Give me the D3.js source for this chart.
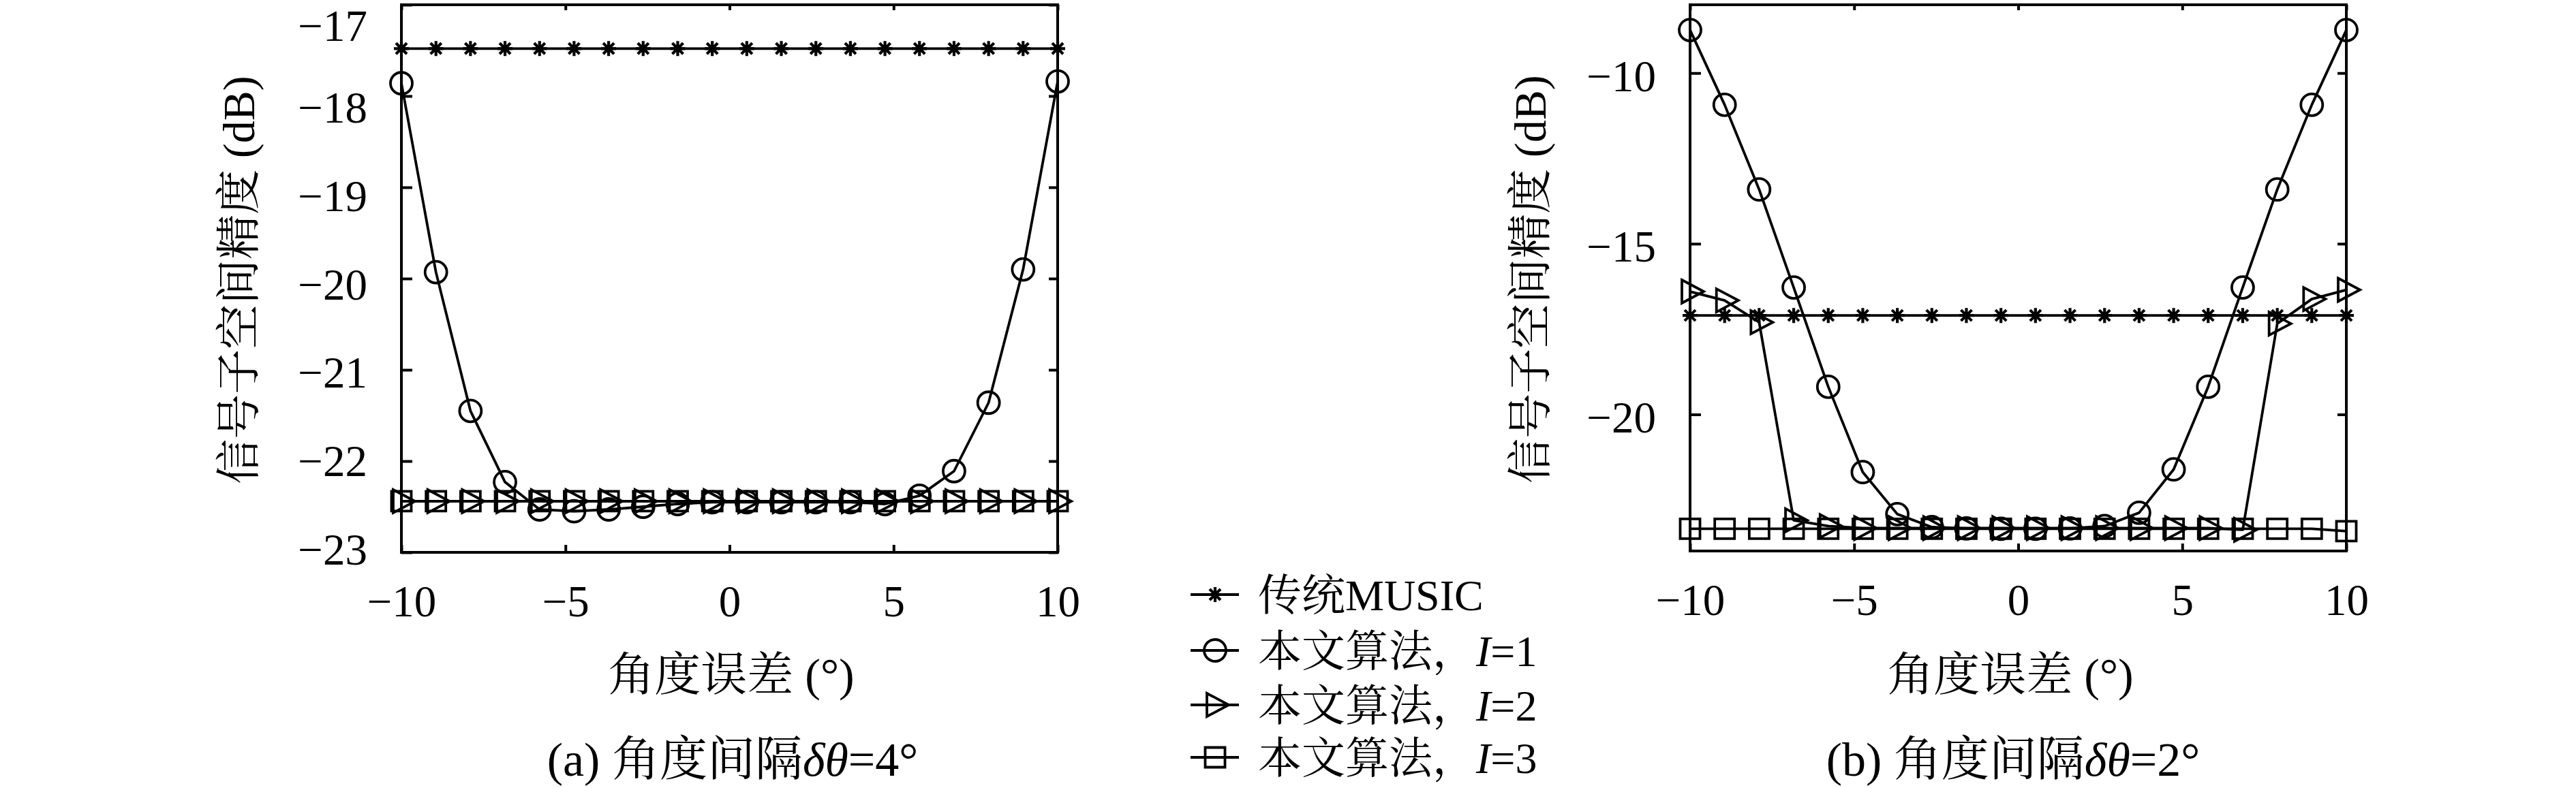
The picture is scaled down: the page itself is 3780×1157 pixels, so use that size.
<!DOCTYPE html>
<html><head><meta charset="utf-8">
<script src="https://cdn.jsdelivr.net/npm/d3@7"></script>
<style>body{margin:0;background:#fff} svg{display:block}</style>
</head><body>
<svg id="c" width="3780" height="1157"></svg>
<script>
// ---- data ----
const xVals = [-10, -8.947, -7.895, -6.842, -5.789, -4.737, -3.684, -2.632, -1.579, -0.526,
               0.526, 1.579, 2.632, 3.684, 4.737, 5.789, 6.842, 7.895, 8.947, 10];
const xTicks = [-10, -5, 0, 5, 10];

// panel (a): delta theta = 4
const aMusic = [-17.48,-17.48,-17.48,-17.48,-17.48,-17.48,-17.48,-17.48,-17.48,-17.48,
                -17.48,-17.48,-17.48,-17.48,-17.48,-17.48,-17.48,-17.48,-17.48,-17.48];
const aI1 = [-17.86,-19.93,-21.45,-22.23,-22.53,-22.55,-22.53,-22.50,-22.47,-22.45,
             -22.45,-22.45,-22.45,-22.45,-22.47,-22.38,-22.11,-21.36,-19.90,-17.84];
const aI2 = [-22.44,-22.44,-22.44,-22.44,-22.44,-22.44,-22.44,-22.44,-22.44,-22.44,
             -22.44,-22.44,-22.44,-22.44,-22.44,-22.44,-22.44,-22.44,-22.44,-22.44];
const aI3 = [-22.44,-22.44,-22.44,-22.44,-22.44,-22.44,-22.44,-22.44,-22.44,-22.44,
             -22.44,-22.44,-22.44,-22.44,-22.44,-22.44,-22.44,-22.44,-22.44,-22.44];
const aYDomain = [-23, -17];
const aYTicks = [-23, -22, -21, -20, -19, -18, -17];

// panel (b): delta theta = 2
const bMusic = [-17.10,-17.10,-17.10,-17.10,-17.10,-17.10,-17.10,-17.10,-17.10,-17.10,
                -17.10,-17.10,-17.10,-17.10,-17.10,-17.10,-17.10,-17.10,-17.10,-17.10];
const bI1 = [-8.74,-10.93,-13.41,-16.28,-19.19,-21.69,-22.92,-23.30,-23.34,-23.35,
             -23.35,-23.34,-23.27,-22.88,-21.61,-19.19,-16.28,-13.41,-10.93,-8.74];
const bI2 = [-16.40,-16.66,-17.30,-23.10,-23.27,-23.33,-23.33,-23.33,-23.33,-23.33,
             -23.33,-23.33,-23.33,-23.33,-23.33,-23.33,-23.38,-17.34,-16.62,-16.35];
const bI3 = [-23.35,-23.35,-23.35,-23.35,-23.35,-23.35,-23.35,-23.35,-23.35,-23.35,
             -23.35,-23.35,-23.35,-23.35,-23.35,-23.35,-23.35,-23.35,-23.35,-23.42];
const bYDomain = [-24, -8];
const bYTicks = [-20, -15, -10];

const legendLabels = ['传统MUSIC', '本文算法，', '本文算法，', '本文算法，'];
const legendSuffix = ['', '=1', '=2', '=3'];
const markerKinds = ['star', 'circle', 'tri', 'square'];
const yLabelText = '信号子空间精度 (dB)';
const xLabelText = '角度误差 (°)';
const captionPre = ['(a) 角度间隔', '(b) 角度间隔'];
const captionVal = ['=4°', '=2°'];

// ---- drawing ----
const svg = d3.select('#c');
const FONT = '"Liberation Serif","Noto Serif CJK SC","Noto Sans CJK SC",serif';
const LW = 4;
const fmt = d3.format('d');

function markerPath(kind) {
  switch (kind) {
    case 'star': { const h = 11, d = 8;
      return `M0,${-h}V${h}M${-h},0H${h}M${-d},${-d}L${d},${d}M${-d},${d}L${d},${-d}`; }
    case 'tri': return 'M-12,-17L20,0L-12,17Z';
    case 'square': return 'M-14.5,-14.5H14.5V14.5H-14.5Z';
    default: return null;
  }
}
function drawMarker(g, kind, cx, cy) {
  if (kind === 'circle') {
    g.append('circle').attr('cx', cx).attr('cy', cy).attr('r', 16)
      .attr('fill', 'none').attr('stroke', '#000').attr('stroke-width', 3.8);
  } else {
    g.append('path').attr('d', markerPath(kind)).attr('transform', `translate(${cx},${cy})`)
      .attr('fill', 'none').attr('stroke', '#000').attr('stroke-width', kind === 'star' ? 4.2 : 3.8)
      .attr('stroke-linejoin', 'miter');
  }
}

const panels = [
  { x0: 589, x1: 1552, y0: 7, y1: 811, yDomain: aYDomain, yTicks: aYTicks,
    series: [aMusic, aI1, aI2, aI3],
    labelY: d3.scaleLinear().domain([-17, -23]).range([28, 806]),
    yLabelX: 349, xLabelX: 1073, capX: 1075 },
  { x0: 2480, x1: 3443, y0: 7, y1: 809, yDomain: bYDomain, yTicks: bYTicks,
    series: [bMusic, bI1, bI2, bI3],
    labelY: null,
    yLabelX: 2244, xLabelX: 2950, capX: 2954 }
];

panels.forEach((p, pi) => {
  const x = d3.scaleLinear().domain([-10, 10]).range([p.x0, p.x1]);
  const y = d3.scaleLinear().domain(p.yDomain).range([p.y1, p.y0]);
  const labelY = p.labelY || (v => y(v) + 4);
  const g = svg.append('g');

  // axes with inward ticks
  const bottom = g.append('g').attr('transform', `translate(0,${p.y1})`)
    .call(d3.axisBottom(x).tickValues(xTicks).tickFormat(fmt).tickSize(-11).tickPadding(0));
  bottom.selectAll('text').attr('y', 94).attr('dy', null);
  g.append('g').attr('transform', `translate(0,${p.y0})`)
    .call(d3.axisTop(x).tickValues(xTicks).tickSize(-8).tickFormat(''));
  const left = g.append('g').attr('transform', `translate(${p.x0},0)`)
    .call(d3.axisLeft(y).tickValues(p.yTicks).tickFormat(fmt).tickSize(-16).tickPadding(50));
  left.selectAll('.tick text').attr('dy', '0.34em').each(function (d) {
    d3.select(this).attr('y', Math.max(labelY(d), 37) - y(d));
  });
  g.append('g').attr('transform', `translate(${p.x1},0)`)
    .call(d3.axisRight(y).tickValues(p.yTicks).tickSize(-13).tickFormat(''));
  g.selectAll('.domain').remove();
  g.selectAll('.tick line').attr('stroke', '#000').attr('stroke-width', LW);
  g.selectAll('.tick text').attr('font-family', FONT).attr('font-size', 65).attr('fill', '#000');

  // frame
  g.append('rect').attr('x', p.x0).attr('y', p.y0)
    .attr('width', p.x1 - p.x0).attr('height', p.y1 - p.y0)
    .attr('fill', 'none').attr('stroke', '#000').attr('stroke-width', LW);

  // series
  const line = d3.line().x((d, i) => x(xVals[i])).y(d => y(d));
  p.series.forEach((s, si) => {
    const sg = g.append('g');
    sg.append('path').datum(s).attr('d', line).attr('fill', 'none')
      .attr('stroke', '#000').attr('stroke-width', 3.8).attr('stroke-linejoin', 'round');
    s.forEach((v, i) => drawMarker(sg, markerKinds[si], x(xVals[i]), y(v)));
  });

  // y label
  g.append('text').attr('transform', `translate(${p.yLabelX},${(p.y0 + p.y1) / 2 + 2}) rotate(-90)`)
    .attr('text-anchor', 'middle').attr('dy', '0.36em')
    .attr('font-family', FONT).attr('font-size', 66).text(yLabelText);
  // x label
  g.append('text').attr('x', p.xLabelX).attr('y', 990).attr('dy', '0.36em')
    .attr('text-anchor', 'middle').attr('font-family', FONT).attr('font-size', 68).text(xLabelText);
  // caption
  const cap = g.append('text').attr('x', p.capX).attr('y', 1114).attr('dy', '0.36em')
    .attr('text-anchor', 'middle').attr('font-family', FONT).attr('font-size', 70);
  cap.append('tspan').text(captionPre[pi]);
  cap.append('tspan').attr('font-style', 'italic').text('δθ');
  cap.append('tspan').text(captionVal[pi]);
});

// legend
const rowsY = [873, 955, 1035, 1112];
const lg = svg.append('g');
legendLabels.forEach((lab, i) => {
  const ry = rowsY[i];
  lg.append('line').attr('x1', 1747).attr('x2', 1818).attr('y1', ry).attr('y2', ry)
    .attr('stroke', '#000').attr('stroke-width', LW);
  drawMarker(lg, markerKinds[i], 1783, ry);
  const t = lg.append('text').attr('x', 1846).attr('y', ry).attr('dy', '0.36em')
    .attr('font-family', FONT).attr('font-size', 64);
  t.append('tspan').text(lab);
  if (legendSuffix[i]) {
    t.append('tspan').attr('font-style', 'italic').text('I');
    t.append('tspan').text(legendSuffix[i]);
  }
});
</script>
</body></html>
